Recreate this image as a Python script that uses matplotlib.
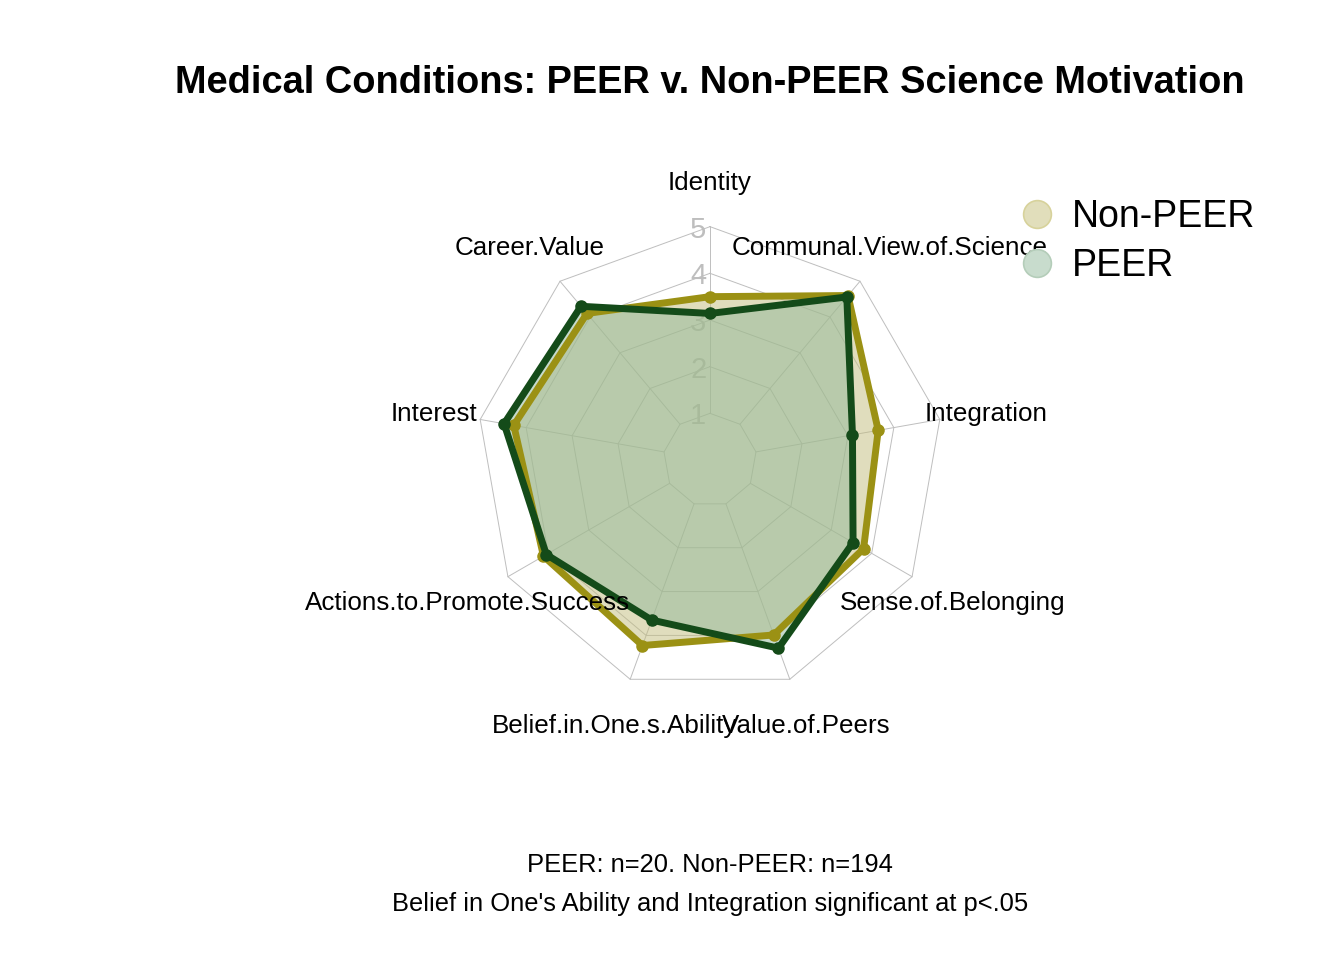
import numpy as np
import matplotlib
matplotlib.use("Agg")
import matplotlib.pyplot as plt
from matplotlib.lines import Line2D

plt.rcParams['font.family'] = ['Liberation Sans', 'DejaVu Sans']

categories = ["Identity", "Career.Value", "Interest", "Actions.to.Promote.Success",
              "Belief.in.One.s.Ability", "Value.of.Peers", "Sense.of.Belonging",
              "Integration", "Communal.View.of.Science"]
non_peer = [3.50, 4.10, 4.27, 4.12, 4.23, 3.99, 3.80, 3.66, 4.60]
peer = [3.14, 4.30, 4.48, 4.05, 3.65, 4.29, 3.54, 3.10, 4.56]
ring_labels = ["1", "2", "3", "4", "5"]
series_names = ["Non-PEER", "PEER"]

title = "Medical Conditions: PEER v. Non-PEER Science Motivation"
subtitle1 = "PEER: n=20. Non-PEER: n=194"
subtitle2 = "Belief in One's Ability and Integration significant at p<.05"

W, H = 1344, 960
fig = plt.figure(figsize=(W / 100, H / 100), dpi=100)
ax = fig.add_axes([0, 0, 1, 1])
scale = 46.67  # px per unit
cx, cy = 710, 460  # center in pixels (from top)
ax.set_xlim(-cx / scale, (W - cx) / scale)
ax.set_ylim(-(H - cy) / scale, cy / scale)
ax.axis('off')

n = len(categories)
ang = np.pi / 2 + 2 * np.pi * np.arange(n) / n
cosa, sina = np.cos(ang), np.sin(ang)
txt_dy = -3 / scale  # small baseline offset for labels

grid_col = "#BEBEBE"
nr = len(ring_labels)
for k in range(1, nr + 1):
    xs = np.append(k * cosa, k * cosa[0])
    ys = np.append(k * sina, k * sina[0])
    ax.plot(xs, ys, color=grid_col, lw=0.7, zorder=1)
for i in range(n):
    ax.plot([cosa[i], nr * cosa[i]], [sina[i], nr * sina[i]], color=grid_col, lw=0.7, zorder=1)
for k, lab in enumerate(ring_labels, start=1):
    ax.text(-0.08, k + txt_dy, lab, ha='right', va='center', fontsize=21, color="#BEBEBE", zorder=2)

for i, c in enumerate(categories):
    ax.text(1.2 * nr * cosa[i], 1.2 * nr * sina[i] + txt_dy, c, ha='center', va='center',
            fontsize=18.7, color='black', zorder=5)

line_cols = ["#9B9114", "#144B19"]
fill_cols = [(195 / 255, 189 / 255, 125 / 255, 0.5), (145 / 255, 185 / 255, 155 / 255, 0.5)]
for vals, lc, fc in zip([non_peer, peer], line_cols, fill_cols):
    v = np.array(vals)
    xs = v * cosa
    ys = v * sina
    ax.fill(xs, ys, color=fc, lw=0, zorder=3)
    ax.plot(np.append(xs, xs[0]), np.append(ys, ys[0]), color=lc, lw=5, zorder=4,
            solid_joinstyle='miter')
    ax.plot(xs, ys, 'o', color=lc, ms=8, zorder=4)

fig.text(710 / W, 1 - 83 / H, title, ha='center', va='center', fontsize=27.4,
         fontweight='bold')
fig.text(710 / W, 1 - 865 / H, subtitle1, ha='center', va='center', fontsize=18.4)
fig.text(710 / W, 1 - 904 / H, subtitle2, ha='center', va='center', fontsize=18.4)

handles = [
    Line2D([], [], marker='o', ls='', ms=20, markerfacecolor=(225 / 255, 222 / 255, 187 / 255),
           markeredgecolor=(215 / 255, 210 / 255, 155 / 255), markeredgewidth=1.2),
    Line2D([], [], marker='o', ls='', ms=20, markerfacecolor=(200 / 255, 220 / 255, 205 / 255),
           markeredgecolor=(180 / 255, 205 / 255, 185 / 255), markeredgewidth=1.2),
]
fig.legend(handles, series_names, loc='center left', bbox_to_anchor=(1020 / W, 1 - 241.5 / H),
           frameon=False, fontsize=27, handlelength=0.92, handletextpad=0.46,
           borderpad=0, borderaxespad=0, labelspacing=0.34)

fig.savefig("out.png", dpi=100)
